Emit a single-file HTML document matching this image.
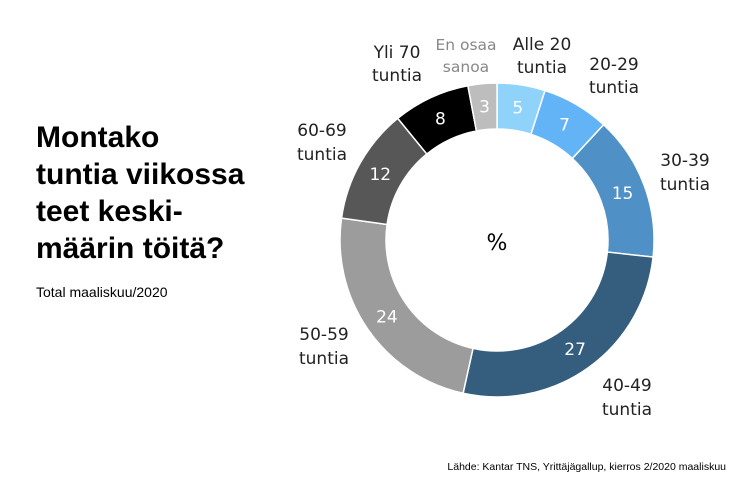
<!DOCTYPE html>
<html><head><meta charset="utf-8"><style>
body{margin:0;background:#fff;width:750px;height:499px;overflow:hidden;font-family:"Liberation Sans",sans-serif}
</style></head><body>
<svg id="s" width="750" height="499" xmlns="http://www.w3.org/2000/svg">
<text font-family="Liberation Sans" font-weight="bold" font-size="30" fill="#000">
<tspan x="36" y="147">Montako</tspan><tspan x="36" y="184">tuntia viikossa</tspan><tspan x="36" y="221">teet keski-</tspan><tspan x="36" y="258">määrin töitä?</tspan></text>
<text x="36" y="297" font-size="14" fill="#000">Total maaliskuu/2020</text>
<text x="726" y="470" font-size="10.5" fill="#000" text-anchor="end">Lähde: Kantar TNS, Yrittäjägallup, kierros 2/2020 maaliskuu</text>
<g id="d"></g>
<text x="497" y="250" font-family="DejaVu Sans" font-size="22" text-anchor="middle" fill="#000">%</text>
<g font-family="DejaVu Sans" font-size="17" fill="#222" text-anchor="middle">
<text x="542" y="50">Alle 20</text><text x="542" y="73">tuntia</text>
<text x="614" y="70">20-29</text><text x="614" y="93">tuntia</text>
<text x="685" y="166">30-39</text><text x="685" y="190">tuntia</text>
<text x="627" y="391">40-49</text><text x="627" y="415">tuntia</text>
<text x="324" y="340">50-59</text><text x="324" y="364">tuntia</text>
<text x="322" y="136">60-69</text><text x="322" y="160">tuntia</text>
<text x="397" y="58">Yli 70</text><text x="397" y="81">tuntia</text>
</g>
<g font-family="DejaVu Sans" font-size="15.5" fill="#888" text-anchor="middle">
<text x="466" y="50">En osaa</text><text x="466" y="72">sanoa</text></g>
</svg>
<script>
var v=[5,7,15,27,24,12,8,3],c=["#8fd3fb","#63b4f7","#4f91c6","#345d7e","#9c9c9c","#575757","#000000","#bdbdbd"];
var cx=497,cy=240,R=157,r=111,T=101,a=0,h="";
function p(rad,ang){return [cx+rad*Math.sin(ang),cy-rad*Math.cos(ang)];}
for(var i=0;i<v.length;i++){var a0=a/T*2*Math.PI;a+=v[i];var a1=a/T*2*Math.PI;
var l=(a1-a0)>Math.PI?1:0,A=p(R,a0),B=p(R,a1),C=p(r,a1),D=p(r,a0);
h+='<path d="M'+A+' A'+R+' '+R+' 0 '+l+' 1 '+B+' L'+C+' A'+r+' '+r+' 0 '+l+' 0 '+D+'Z" fill="'+c[i]+'" stroke="#fff" stroke-width="1.5"/>';
var m=p((R+r)/2,(a0+a1)/2);
h+='<text x="'+m[0]+'" y="'+(m[1]+6)+'" font-family="DejaVu Sans" font-size="17" fill="#fff" text-anchor="middle">'+v[i]+'</text>';}
document.getElementById("d").innerHTML=h;
</script>
</body></html>
